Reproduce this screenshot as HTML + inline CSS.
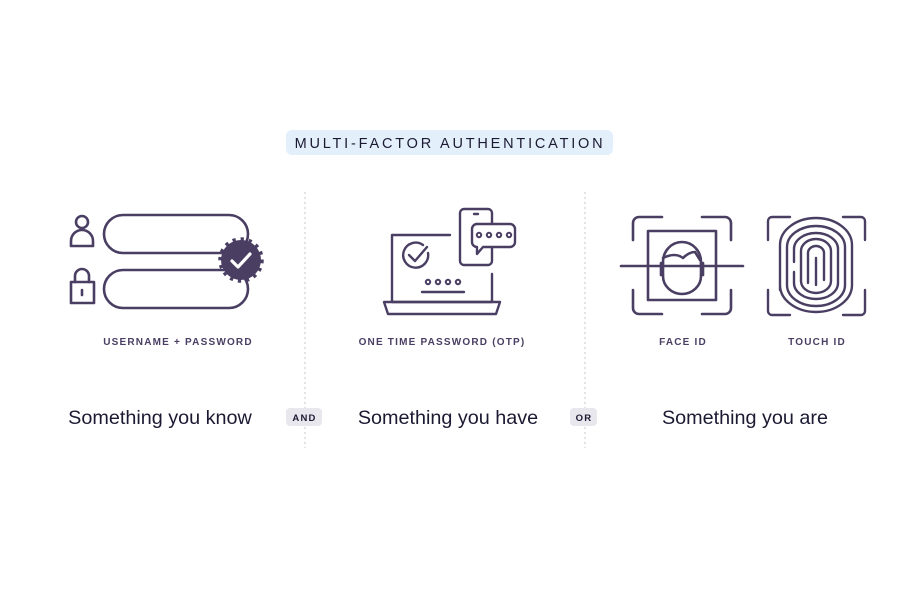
<!DOCTYPE html>
<html><head><style>
html,body{margin:0;padding:0;background:#fff;width:922px;height:615px;overflow:hidden}
svg{display:block}
text{font-family:"Liberation Sans",sans-serif}
</style></head><body>
<svg width="922" height="615" viewBox="0 0 922 615" xmlns="http://www.w3.org/2000/svg">
<rect x="286" y="130" width="327" height="25" rx="6" fill="#e3f0fb"/>
<text x="450" y="148" text-anchor="middle" font-size="14.5" letter-spacing="2.8" fill="#1c1a33">MULTI-FACTOR AUTHENTICATION</text>
<g stroke="#d2d2d8" stroke-width="1.2" stroke-dasharray="2 3">
<line x1="305" y1="192" x2="305" y2="448"/>
<line x1="585" y1="192" x2="585" y2="448"/>
</g>
<g fill="none" stroke="#4a3f63" stroke-width="2.6" stroke-linecap="round" stroke-linejoin="round">
<circle cx="82" cy="222" r="6"/>
<path d="M71 246 v-5 a11 11 0 0 1 22 0 v5 z"/>
<path d="M75 282 v-6 a7 7 0 0 1 14 0 v6"/>
<rect x="71" y="282" width="23" height="21"/>
<line x1="82" y1="290" x2="82" y2="295"/>
<rect x="104" y="215" width="144" height="38" rx="19"/>
<rect x="104" y="270" width="144" height="38" rx="19"/>
</g>
<circle cx="241" cy="260" r="20" fill="#4a3f63"/>
<circle cx="241" cy="260" r="21" fill="none" stroke="#4a3f63" stroke-width="3.5" stroke-dasharray="3.3 4.9" stroke-linejoin="round"/>
<path d="M232 261 l6 6 l12 -13" fill="none" stroke="#fff" stroke-width="3.2" stroke-linecap="round" stroke-linejoin="round"/>
<g fill="none" stroke="#4a3f63" stroke-width="2.4" stroke-linecap="round" stroke-linejoin="round">
<path d="M450 235 H392 V302 H492 V274"/>
<path d="M384 302 H500 L496 314 H388 Z"/>
<path d="M428 253 a12.5 12.5 0 1 1 -5 -8"/>
<path d="M409 255 l6 6 l12 -14"/>
<line x1="422" y1="292" x2="464" y2="292"/>
<rect x="460" y="209" width="32" height="56" rx="4"/>
<line x1="474" y1="214" x2="478" y2="214"/>
<path d="M476 224 H510 a5 5 0 0 1 5 5 V242 a5 5 0 0 1 -5 5 H483 L477 254 V247 a5 5 0 0 1 -5 -5 V229 a5 5 0 0 1 5 -5z" fill="#fff"/>
</g>
<g fill="none" stroke="#4a3f63" stroke-width="2">
<circle cx="428" cy="282" r="2.2"/><circle cx="438" cy="282" r="2.2"/><circle cx="448" cy="282" r="2.2"/><circle cx="458" cy="282" r="2.2"/>
<circle cx="479" cy="235" r="2.2"/><circle cx="489" cy="235" r="2.2"/><circle cx="499" cy="235" r="2.2"/><circle cx="509" cy="235" r="2.2"/>
</g>
<g fill="none" stroke="#4a3f63" stroke-width="2.6" stroke-linecap="round" stroke-linejoin="round">
<path d="M633 240 V223 a6 6 0 0 1 6 -6 H662"/>
<path d="M702 217 H725 a6 6 0 0 1 6 6 V240"/>
<path d="M633 290 V308 a6 6 0 0 0 6 6 H662"/>
<path d="M702 314 H725 a6 6 0 0 0 6 -6 V290"/>
<rect x="648" y="231" width="68" height="69"/>
<line x1="621" y1="266" x2="743" y2="266"/>
<path d="M663 262 a19 20 0 0 1 38 0 v14 a19 18 0 0 1 -38 0 z"/>
<path d="M663 258 q12 -6 20 0 q6 -6 12 -6 l5 8"/>
<path d="M663 263 h-2 v12 h2 M701 263 h2 v12 h-2"/>
</g>
<g fill="none" stroke="#4a3f63" stroke-width="2.4" stroke-linecap="round">
<path d="M768 240 V221 a4 4 0 0 1 4 -4 H790"/>
<path d="M843 217 H861 a4 4 0 0 1 4 4 V240"/>
<path d="M768 290 V311 a4 4 0 0 0 4 4 H790"/>
<path d="M843 315 H861 a4 4 0 0 0 4 -4 V290"/>
<path d="M780 290 V245 a36 27 0 0 1 72 0 V285 a36 27 0 0 1 -72 0"/>
<path d="M787 285 V247 a29 21 0 0 1 58 0 V285 a29 21 0 0 1 -58 0"/>
<path d="M794 262 V249 a22 16 0 0 1 44 0 V283 a22 16 0 0 1 -44 0 V272"/>
<path d="M801 282 V251 a15 12 0 0 1 30 0 V281 a15 12 0 0 1 -30 0"/>
<path d="M808 283 V253 a8 7 0 0 1 16 0 V280"/>
<path d="M816 285 V258"/>
</g>
<g font-size="10" letter-spacing="1.2" fill="#4a3f63" font-weight="bold" text-anchor="middle">
<text x="178" y="345">USERNAME + PASSWORD</text>
<text x="442" y="345">ONE TIME PASSWORD (OTP)</text>
<text x="683" y="345">FACE ID</text>
<text x="817" y="345">TOUCH ID</text>
</g>
<g font-size="19.8" fill="#1c1a33" text-anchor="middle">
<text x="160" y="424">Something you know</text>
<text x="448" y="424">Something you have</text>
<text x="745" y="424">Something you are</text>
</g>
<rect x="286" y="408" width="36" height="18" rx="4" fill="#e8e7ee"/>
<rect x="570" y="408" width="27" height="18" rx="4" fill="#e8e7ee"/>
<g font-size="9.5" letter-spacing="1.2" fill="#1c1a33" font-weight="bold" text-anchor="middle">
<text x="304.5" y="421">AND</text>
<text x="584" y="421">OR</text>
</g>
</svg>
</body></html>
